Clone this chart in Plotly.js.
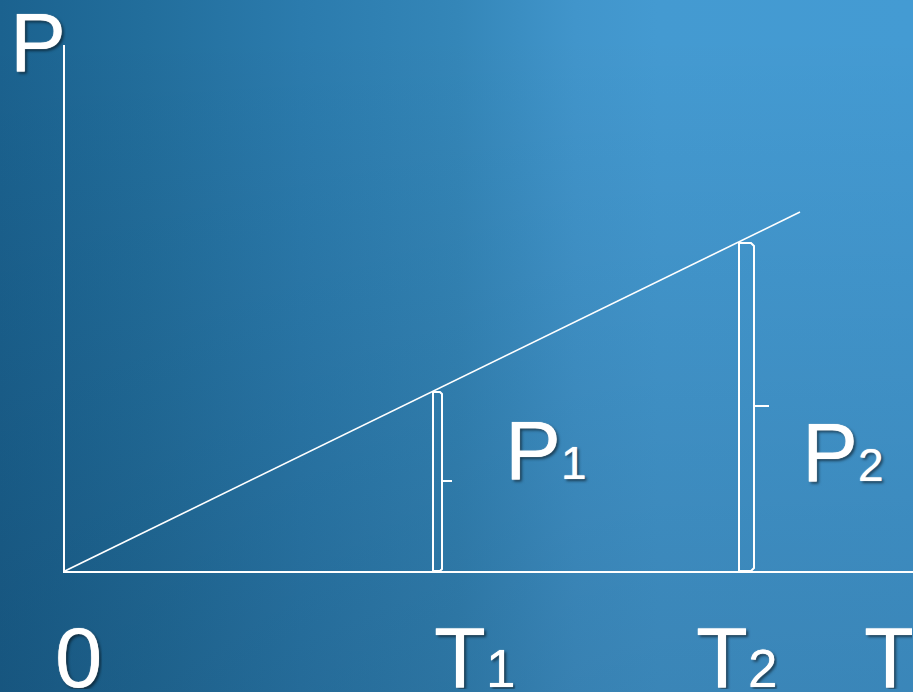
<!DOCTYPE html>
<html><head><meta charset="utf-8">
<script src="https://cdn.plot.ly/plotly-3.0.1.min.js"></script>
<style>
html,body{margin:0;padding:0;}
body{width:913px;height:692px;overflow:hidden;
background:
  linear-gradient(to bottom, rgba(0,15,35,0) 5%, rgba(0,15,35,0.13) 85%, rgba(0,15,35,0.15) 100%),
  linear-gradient(to right, #1b628f 0%, #226e9c 16%, #2b7bad 33%, #3486b8 50%, #4195cb 63%, #449ad1 72%, #449bd3 100%);}
#chart{width:913px;height:692px;}
</style></head>
<body><div id="chart"></div>
<script>
// values (offsets from the origin, in drawing units)
var lineX = [0, 735];
var lineY = [0, 359];
var bar1X = [368, 368, 375, 377, 377, 387, 377, 377, 375, 368];
var bar1Y = [0, 179, 179, 177, 90, 90, 90, 2, 0, 0];
var bar2X = [674, 674, 686, 689, 689, 704, 689, 689, 686, 674];
var bar2Y = [0, 328, 328, 325, 165, 165, 165, 3, 0, 0];
var xTickLabels = ['0', 'T<span style="font-size:53px">1</span>', 'T<span style="font-size:53px">2</span>', 'T'];
var xTickPos = [-0.0142, 0.4328, 0.7417, 0.9399];
var xTickWidth = [null, null, null, 48];
var areaLabels = ['P<span style="font-size:46px">1</span>', 'P<span style="font-size:46px">2</span>'];
var areaPos = [[0.5165, 0.1369], [0.8667, 0.133]];
var yLabel = 'P';

var white = '#ffffff';
var traces = [
  {x: lineX, y: lineY, mode: 'lines', line: {color: white, width: 1.6}, hoverinfo: 'skip'},
  {x: bar1X, y: bar1Y, mode: 'lines', line: {color: white, width: 2}, hoverinfo: 'skip'},
  {x: bar2X, y: bar2Y, mode: 'lines', line: {color: white, width: 2}, hoverinfo: 'skip'}
];

var shadow = '0 0 1px #ffffff, 2px 2px 3px rgba(0,0,0,0.55)';
var annotations = [];
xTickLabels.forEach(function(t, i){
  var a = {xref: 'paper', yref: 'paper', x: xTickPos[i], y: -0.2281, xanchor: 'left', yanchor: 'bottom',
    text: t, showarrow: false, height: 79, valign: 'top', align: 'left',
    font: {family: 'Liberation Sans, Arial', size: 85, color: white, shadow: shadow}};
  if (xTickWidth[i]) a.width = xTickWidth[i];
  annotations.push(a);
});
areaLabels.forEach(function(t, i){
  annotations.push({xref: 'paper', yref: 'paper', x: areaPos[i][0], y: areaPos[i][1], xanchor: 'left', yanchor: 'bottom',
    text: t, showarrow: false,
    font: {family: 'Liberation Sans, Arial', size: 84, color: white, shadow: shadow}});
});
annotations.push({xref: 'paper', yref: 'paper', x: -0.0672, y: 0.9125, xanchor: 'left', yanchor: 'bottom',
  text: yLabel, showarrow: false, height: 86, valign: 'bottom',
  font: {family: 'Liberation Sans, Arial', size: 84, color: white, shadow: shadow}});

var layout = {
  width: 913, height: 692,
  margin: {l: 65, r: 0, t: 45, b: 121, pad: 0},
  paper_bgcolor: 'rgba(0,0,0,0)', plot_bgcolor: 'rgba(0,0,0,0)',
  showlegend: false,
  xaxis: {range: [0, 848], showgrid: false, zeroline: false, showticklabels: false, ticks: '',
          showline: true, linecolor: white, linewidth: 2, fixedrange: true},
  yaxis: {range: [0, 526], showgrid: false, zeroline: false, showticklabels: false, ticks: '',
          showline: true, linecolor: white, linewidth: 2, fixedrange: true},
  annotations: annotations
};
Plotly.newPlot('chart', traces, layout, {displayModeBar: false, staticPlot: true});
</script></body></html>
